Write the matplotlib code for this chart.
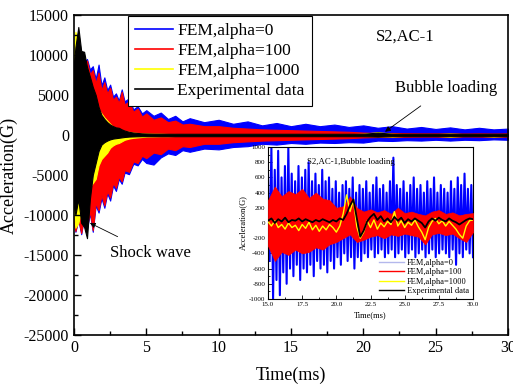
import numpy as np
import matplotlib
matplotlib.use("Agg")
import matplotlib.pyplot as plt
from matplotlib.ticker import MultipleLocator

plt.rcParams["font.family"] = ["Liberation Serif", "DejaVu Serif"]
plt.rcParams["axes.unicode_minus"] = False

# ---- full record, 0-30 ms: envelope (max / min) of each trace ----
t_main = [0, 0.1, 0.3, 0.5, 0.7, 0.9, 1.1, 1.3, 1.5, 1.7, 1.9, 2.1, 2.3, 2.5,
          2.7, 2.9, 3.1, 3.3, 3.5, 3.8, 4.1, 4.4, 4.7, 5.0, 5.5, 6.0, 6.5, 7.0,
          7.5, 8.0, 9, 10, 11, 12, 13, 14, 15, 16, 17, 18, 19, 20, 21, 22, 23,
          24, 25, 26, 27, 28, 29, 30]

alpha0_hi = [10500, 11000, 10200, 9800, 9000, 9500, 8200, 8600, 7000, 8800,
             6200, 7200, 5600, 6300, 4800, 5200, 4300, 5700, 4200, 4600,
             3200, 3600, 2700, 3100, 2400, 2800, 2000, 2400, 1700, 2100,
             1600, 1900, 1400, 1700, 1200, 1500, 1100, 1400, 1100, 1300,
             1000, 1200, 900, 1100, 800, 1000, 750, 950, 700, 900, 700, 800]
alpha0_lo = [-11000, -12100, -10600, -12400, -10200, -11700, -9800, -12100, -8800, -9700,
             -7900, -9100, -7300, -8200, -6300, -7000, -5500, -6100, -4700, -4900,
             -3600, -3800, -3000, -3500, -3700, -2800, -2300, -2500, -1900, -2100,
             -1700, -1800, -1500, -1400, -1100, -1200, -1000, -1100, -950, -1000,
             -900, -950, -700, -750, -650, -700, -600, -700, -600, -650, -550, -600]

alpha100_hi = [10900, 9000, 10200, 9600, 8500, 9300, 7600, 8100, 6500, 7800,
               5600, 6600, 5200, 5900, 4400, 4800, 4000, 5400, 3800, 4200,
               2900, 3300, 2300, 2700, 1900, 2200, 1600, 1800, 1300, 1400,
               1100, 1100, 900, 800, 700, 650, 600, 550, 500, 450,
               400, 300, 250, 250, 220, 200, 200, 200, 180, 200, 180, 200]
alpha100_lo = [-11000, -12000, -10500, -12250, -10000, -11500, -9500, -11900, -8500, -9400,
               -7500, -8800, -7000, -7800, -6000, -6600, -5200, -5800, -4400, -4600,
               -3300, -3500, -2600, -2900, -2200, -2400, -1700, -1900, -1400, -1500,
               -1100, -1100, -900, -800, -700, -650, -600, -550, -500, -450,
               -400, -300, -250, -250, -220, -200, -200, -250, -180, -200, -220, -200]

alpha1000_hi = [11000, 12900, 11500, 9000, 7000, 7800, 5600, 4800, 4200, 3200,
                2700, 2200, 1800, 1400, 1000, 900, 700, 600, 500, 400,
                300, 250, 200, 180, 150, 150, 120, 120, 100, 100,
                100, 100, 100, 100, 100, 100, 100, 100, 100, 100,
                100, 150, 350, 150, 100, 100, 100, 180, 100, 100, 100, 100]
alpha1000_lo = [-10000, -11600, -11000, -9500, -8000, -7000, -6500, -6000, -5500, -3800,
                -3000, -2600, -2200, -1600, -1300, -1100, -1000, -800, -600, -450,
                -350, -300, -250, -200, -180, -150, -150, -120, -120, -100,
                -100, -100, -100, -100, -100, -100, -100, -100, -100, -100,
                -100, -120, -150, -200, -100, -100, -100, -220, -100, -100, -200, -100]

exp_hi = [9000, 11000, 13500, 10500, 10400, 8500, 7300, 6000, 5000, 3500,
          2500, 2000, 1600, 1300, 1100, 950, 900, 700, 550, 400,
          300, 250, 200, 180, 150, 150, 150, 150, 150, 150,
          150, 150, 150, 150, 150, 150, 150, 150, 150, 150,
          150, 150, 300, 150, 150, 150, 150, 150, 150, 150, 150, 150]
exp_lo = [-9000, -10000, -8000, -11000, -11500, -12900, -8000, -5000, -3500, -2000,
          -1200, -900, -700, -550, -450, -400, -350, -300, -250, -200,
          -180, -160, -150, -150, -150, -150, -150, -150, -150, -150,
          -150, -150, -150, -150, -150, -150, -150, -150, -150, -150,
          -150, -150, -200, -150, -150, -150, -150, -150, -150, -150, -150, -150]

# ---- zoom on the bubble loading, 15-30 ms ----
zoom_t0, zoom_t1 = 15.0, 30.0

# successive positive / negative peaks of the alpha=0 trace
z_alpha0_pos = [650, 1000, 700, 950, 600, 750, 1000, 650, 550, 750, 600, 700, 800,
                550, 650, 500, 700, 550, 600, 450, 550, 400, 500, 550, 450, 600,
                400, 500, 450, 550, 400, 500, 600, 450, 500, 400, 550, 860, 500,
                450, 550, 400, 500, 600, 450, 500, 400, 550, 450, 600, 400, 500,
                450, 400, 550, 450, 600, 500, 650, 450, 500]
z_alpha0_neg = [-500, -1000, -750, -950, -650, -800, -600, -700, -550, -750, -600,
                -650, -550, -700, -500, -600, -550, -650, -500, -600, -450, -550,
                -400, -500, -450, -600, -450, -500, -400, -450, -350, -450, -400,
                -350, -450, -400, -350, -450, -400, -350, -450, -400, -350, -450,
                -400, -350, -450, -400, -350, -450, -400, -350, -400, -450, -350,
                -550, -400, -450, -350, -400, -450]

z_alpha100_hi = [300, 480, 350, 420, 380, 450, 330, 400, 320, 300, 200, 220, 350,
                 200, 150, 180, 140, 170, 120, 200, 130, 150, 120, 100, 150, 170,
                 120, 140, 100, 120, 130]
z_alpha100_lo = [-300, -500, -380, -420, -350, -400, -380, -320, -350, -280, -250,
                 -200, -150, -250, -220, -180, -160, -200, -150, -170, -140, -160,
                 -180, -280, -150, -130, -160, -140, -200, -250, -120]

z_alpha1000 = [20, -40, 30, -60, -20, -80, 0, -60, -30, -100, -20, -70, 10, -90,
               -30, -110, -40, -90, -20, -60, -120, -40, 120, 370, 150, 300, -50,
               -200, -120, 30, -60, 40, -80, 0, -50, 20, -20, 150, -40, 30, -60,
               10, -30, 40, -50, -120, -220, -60, 20, 60, -10, 30, -40, 20, -30,
               -80, -150, -200, -40, 30, 40]
z_exp = [30, 60, 0, 50, 20, 70, 10, 40, 30, 60, 20, 50, 30, 10, 40, 20, 50, 30,
         10, 40, 20, 60, 40, 120, 230, 310, 60, -180, -100, 20, 80, 120, 40, 90,
         20, 60, 10, 80, 30, 70, 0, 50, 20, 60, 30, 0, -60, 20, 60, 30, 70, 40,
         20, 60, 30, 10, -20, 10, 40, 60, 50]

labels = ["FEM,alpha=0", "FEM,alpha=100", "FEM,alpha=1000", "Experimental data"]
colors = ["#0000ff", "#ff0000", "#ffff00", "#000000"]

fig = plt.figure(figsize=(5.13, 3.85), dpi=100)
ax = fig.add_axes([0.1442, 0.1299, 0.846, 0.8312])

envelopes = [(alpha0_lo, alpha0_hi), (alpha100_lo, alpha100_hi),
             (alpha1000_lo, alpha1000_hi), (exp_lo, exp_hi)]
for (lo, hi), c, lab in zip(envelopes, colors, labels):
    ax.fill_between(t_main, lo, hi, color=c, lw=0.8, edgecolor=c)
    ax.plot([], [], color=c, lw=1.2, label=lab)

ax.set_xlim(0, 30)
ax.set_ylim(-25000, 15000)
ax.xaxis.set_major_locator(MultipleLocator(5))
ax.xaxis.set_minor_locator(MultipleLocator(2.5))
ax.yaxis.set_major_locator(MultipleLocator(5000))
ax.yaxis.set_minor_locator(MultipleLocator(2500))
ax.tick_params(which="both", direction="in", top=False, right=False,
               labelsize=11.5, width=1.0)
ax.tick_params(which="major", length=5)
ax.tick_params(which="minor", length=3)
for s in ax.spines.values():
    s.set_linewidth(1.2)
ax.set_xlabel("Time(ms)", fontsize=13, labelpad=8)
ax.set_ylabel("Acceleration(G)", fontsize=13, labelpad=4)

leg = ax.legend(loc="upper left", bbox_to_anchor=(0.124, 0.997), borderaxespad=0,
                fontsize=12.5, handlelength=2.2, labelspacing=0.22,
                handletextpad=0.25, borderpad=0.4, fancybox=False, framealpha=1)
leg.get_frame().set_edgecolor("black")
leg.get_frame().set_linewidth(0.8)

ax.text(22.9, 12300, "S2,AC-1", fontsize=12, ha="center", va="center")
ax.annotate("Bubble loading", xy=(21.5, 400), xytext=(25.7, 5900),
            fontsize=12, ha="center", va="center",
            arrowprops=dict(arrowstyle="-|>", color="k", lw=0.6,
                            mutation_scale=8, shrinkA=9, shrinkB=0))
ax.annotate("Shock wave", xy=(1.1, -11000), xytext=(5.3, -14750),
            fontsize=12, ha="center", va="center",
            arrowprops=dict(arrowstyle="-|>", color="k", lw=0.6,
                            mutation_scale=8, shrinkA=9, shrinkB=0))

# inset: bubble loading window
ins = fig.add_axes([268 / 513, 1 - 299 / 385, 205 / 513, 152 / 385])
z_alpha0 = np.ravel(np.column_stack([z_alpha0_pos, z_alpha0_neg]))
zt_b = np.linspace(zoom_t0, zoom_t1, len(z_alpha0))
zt_r = np.linspace(zoom_t0, zoom_t1, len(z_alpha100_hi))
zt_y = np.linspace(zoom_t0, zoom_t1, len(z_alpha1000))
zt_k = np.linspace(zoom_t0, zoom_t1, len(z_exp))
ins.plot(zt_b, z_alpha0, color="#0000ff", lw=1.5, zorder=2)
ins.fill_between(zt_r, z_alpha100_lo, z_alpha100_hi, color="#ff0000", lw=0.5,
                 zorder=3)
ins.plot(zt_y, z_alpha1000, color="#ffff00", lw=1.0, zorder=4)
ins.plot(zt_k, z_exp, color="#000000", lw=1.3, zorder=5)

ins.plot([], [], color="#b4b8ec", lw=1.0, label=labels[0])
ins.plot([], [], color="#ff0000", lw=1.0, label=labels[1])
ins.plot([], [], color="#ffff00", lw=1.0, label=labels[2])
ins.plot([], [], color="#000000", lw=1.0, label=labels[3])

ins.set_xlim(zoom_t0, zoom_t1)
ins.set_ylim(-1000, 1000)
ins.xaxis.set_major_locator(MultipleLocator(2.5))
ins.xaxis.set_minor_locator(MultipleLocator(1.25))
ins.yaxis.set_major_locator(MultipleLocator(200))
ins.yaxis.set_minor_locator(MultipleLocator(100))
ins.xaxis.set_major_formatter(plt.FormatStrFormatter("%.1f"))
ins.tick_params(which="both", direction="in", labelsize=5, width=0.6, pad=2)
ins.tick_params(which="major", length=3)
ins.tick_params(which="minor", length=1.5)
for s in ins.spines.values():
    s.set_linewidth(0.8)
ins.set_xlabel("Time(ms)", fontsize=6, labelpad=3)
ins.set_ylabel("Acceleration(G)", fontsize=6, labelpad=1)
ins.text(0.19, 0.90, "S2,AC-1,Bubble loading", transform=ins.transAxes,
         fontsize=6.3, ha="left", va="center")
ins.legend(loc="lower right", fontsize=6, frameon=False, handlelength=3,
           labelspacing=0.15, handletextpad=0.3, borderaxespad=0.1)

fig.savefig("out.png", dpi=100)
